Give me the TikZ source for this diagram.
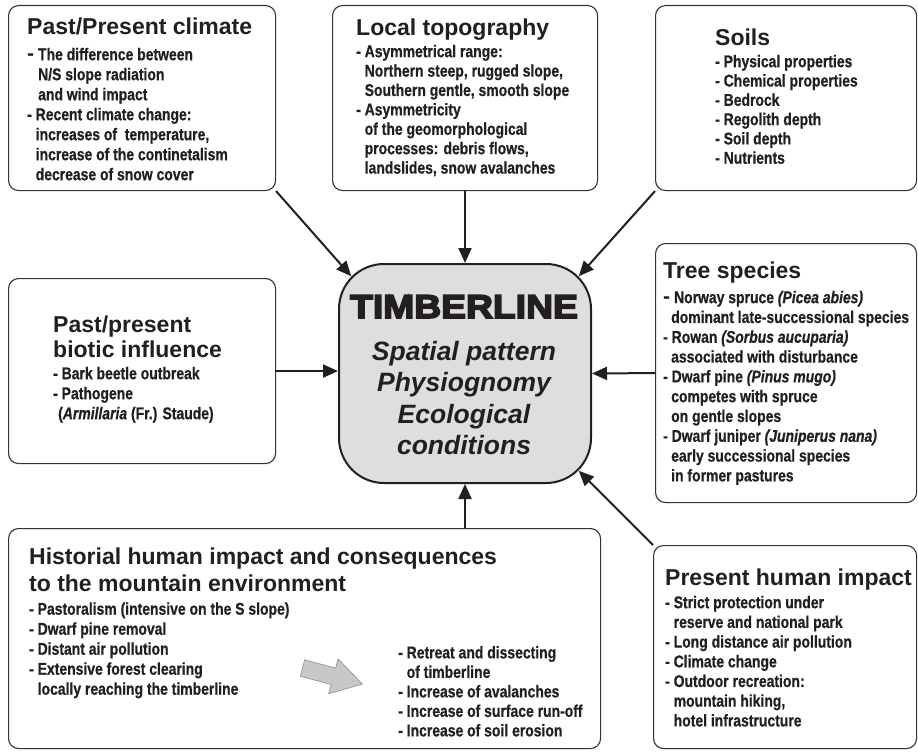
\documentclass[tikz,border=0pt]{standalone}
\usepackage{fontspec}
\setmainfont{Liberation Sans}
\newfontfamily\bodyf{Liberation Sans}[FakeStretch=0.82, BoldFeatures={FakeBold=0.6}, BoldItalicFeatures={FakeBold=0.6}]
\newfontfamily\blackf{Liberation Sans}[FakeStretch=1.13, BoldFeatures={FakeBold=5}]
\usetikzlibrary{arrows.meta,calc}
\definecolor{ink}{HTML}{231F20}
\definecolor{frame}{HTML}{333333}
\definecolor{cfill}{HTML}{DEDEDF}
\definecolor{garrow}{HTML}{C8C8C8}
\definecolor{garrowline}{HTML}{8C8C8C}
\newcommand{\bigdash}{{\normalfont\bfseries\fontsize{21}{19}\selectfont -}}
\tikzset{
  box/.style={draw=frame, line width=1.1pt, rounded corners=10pt, anchor=north west, inner sep=0pt},
  ttl/.style={font=\bfseries\fontsize{23}{#1}\selectfont, text=ink, anchor=north west, inner sep=0pt, align=left},
  ttl/.default=26,
  bdy/.style={font=\bodyf\bfseries\fontsize{17}{#1}\selectfont, text=ink, anchor=north west, inner sep=0pt, align=left},
  bdy/.default=19.5,
  link/.style={draw=ink, line width=2pt, -{Triangle[length=15pt,width=13pt]}},
}
\begin{document}
\begin{tikzpicture}[x=1pt,y=-1pt]
\useasboundingbox (0,0) rectangle (918,752);
\fill[white] (0,0) rectangle (918,752);

% frames
\node[box, minimum width=267pt, minimum height=185pt] (b1) at (8,5) {};
\node[box, minimum width=265pt, minimum height=185pt] (b2) at (332,5) {};
\node[box, minimum width=261pt, minimum height=185pt] (b3) at (655,5) {};
\node[box, minimum width=267pt, minimum height=185pt] (b4) at (8,278) {};
\node[box, minimum width=261pt, minimum height=259pt] (b5) at (655,243) {};
\node[box, minimum width=592pt, minimum height=220pt] (b7) at (8,528) {};
\node[box, minimum width=263pt, minimum height=203pt] (b8) at (653,545) {};
\node[draw=ink, fill=cfill, line width=2pt, rounded corners=45pt, anchor=north west,
      minimum width=252pt, minimum height=219pt, inner sep=0pt] (C) at (338,263) {};

% center texts
\node[font=\blackf\bfseries\fontsize{33}{33}\selectfont, text=ink, anchor=base, inner sep=0pt] (tl) at (464,318) {TIMBERLINE};
\node[font=\bfseries\itshape\fontsize{26.5}{31.5}\selectfont, text=ink, anchor=north, inner sep=0pt, align=center] (tc) at (464,338)
  {\strut Spatial pattern\\Physiognomy\\Ecological\\conditions};

% box 1
\node[ttl] (t1) at (27,15.8) {\strut Past/Present climate};
\node[bdy=20] (x1) at (27,46) {\strut\bigdash{} The difference between\\
\hspace*{11pt}N/S slope radiation\\
\hspace*{11pt}and wind impact\\
- Recent climate change:\\
\phantom{- }increases of\ \ temperature,\\
\phantom{- }increase of the continetalism\\
\phantom{- }decrease of snow cover};

% box 2
\node[ttl] (t2) at (356,16.8) {\strut Local topography};
\node[bdy=19.4] (x2) at (356,43.4) {\strut - Asymmetrical range:\\
\phantom{- }Northern steep, rugged slope,\\
\phantom{- }Southern gentle, smooth slope\\
- Asymmetricity\\
\phantom{- }of the geomorphological\\
\phantom{- }processes: debris flows,\\
\phantom{- }landslides, snow avalanches};

% box 3
\node[ttl] (t3) at (715,27) {\strut Soils};
\node[bdy=19.3] (x3) at (715,53.5) {\strut - Physical properties\\
- Chemical properties\\
- Bedrock\\
- Regolith depth\\
- Soil depth\\
- Nutrients};

% box 4
\node[ttl=25] (t4) at (53,315) {\strut Past/present\\biotic influence};
\node[bdy=20] (x4) at (53,365) {\strut - Bark beetle outbreak\\
- Pathogene\\
\hspace*{5pt}(\textit{Armillaria} (Fr.) Staude)};

% box 5
\node[ttl] (t5) at (663,259.8) {\strut Tree species};
\node[bdy=19.8] (x5) at (663,289.1) {\strut\bigdash{} Norway spruce \textit{(Picea abies)}\\
\hspace*{8pt}dominant late-successional species\\
- Rowan \textit{(Sorbus aucuparia)}\\
\hspace*{8pt}associated with disturbance\\
- Dwarf pine \textit{(Pinus mugo)}\\
\hspace*{8pt}competes with spruce\\
\hspace*{8pt}on gentle slopes\\
- Dwarf juniper \textit{(Juniperus nana)}\\
\hspace*{8pt}early successional species\\
\hspace*{8pt}in former pastures};

% box 7
\node[ttl=27] (t7) at (29,545) {\strut Historial human impact and consequences\\to the mountain environment};
\node[bdy=20] (x7) at (29,600.5) {\strut - Pastoralism (intensive on the S slope)\\
- Dwarf pine removal\\
- Distant air pollution\\
- Extensive forest clearing\\
\phantom{- }locally reaching the timberline};
\node[bdy=19.5] (y7) at (398,644.5) {\strut - Retreat and dissecting\\
\phantom{- }of timberline\\
- Increase of avalanches\\
- Increase of surface run-off\\
- Increase of soil erosion};
\draw[draw=garrowline, fill=garrow, line width=0.6pt]
  (304.7,659.8) -- (335.6,668.1) -- (338.1,658.9) -- (362.4,684.1) -- (328.7,693.7) -- (331.2,684.5) -- (300.3,676.2) -- cycle;

% box 8
\node[ttl] (t8) at (665,567.5) {\strut Present human impact};
\node[bdy=19.7] (x8) at (665,594.2) {\strut - Strict protection under\\
\phantom{- }reserve and national park\\
- Long distance air pollution\\
- Climate change\\
- Outdoor recreation:\\
\phantom{- }mountain hiking,\\
\phantom{- }hotel infrastructure};

% connectors
\coordinate (cNW) at ($(C.north west)+(13.2,13.2)$);
\coordinate (cNE) at ($(C.north east)+(-13.2,13.2)$);
\coordinate (cSE) at ($(C.south east)+(-13.2,-13.2)$);
\draw[link] (b1.south east) -- (cNW);
\draw[link] (b2.south -| C.north) -- (C.north);
\draw[link] (b3.south west) -- (cNE);
\draw[link] (b4.east) -- (b4.east -| C.west);
\draw[link] (b5.west) -- (C.east);
\draw[link] (C.south |- b7.north) -- (C.south);
\draw[link] (b8.north west) -- (cSE);
\end{tikzpicture}
\end{document}
